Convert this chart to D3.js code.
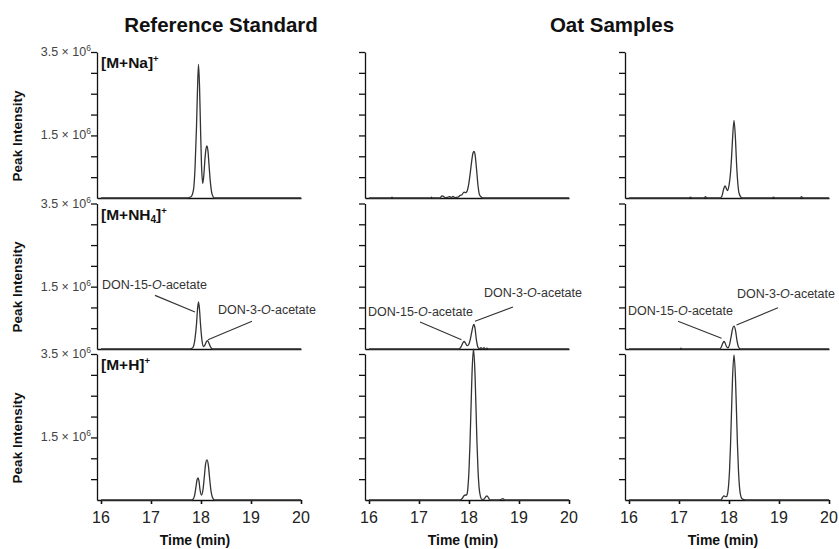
<!DOCTYPE html>
<html>
<head>
<meta charset="utf-8">
<script src="https://cdn.jsdelivr.net/npm/d3@7/dist/d3.min.js"></script>
<style>
  html, body { margin: 0; padding: 0; background: #fff; }
  svg { display: block; font-family: "Liberation Sans", Arial, sans-serif; }
</style>
</head>
<body>
<svg id="chart" width="839" height="549"></svg>
<script>
// ---------------- DATA ----------------
const columnTitles = ["Reference Standard", "Oat Samples"];
const adductLabels = [
  { base: "[M+Na]", sub: "", sup: "+" },
  { base: "[M+NH", sub: "4", sup: "+", close: "]" },
  { base: "[M+H]", sub: "", sup: "+" }
];
const timeTicks = [16, 17, 18, 19, 20];
const intensityTicks = [0.5, 1, 1.5, 2, 2.5, 3, 3.5];       // ×10^6
const labeledIntensity = [3.5, 1.5];
const labeledIntensityText = ["3.5 × 10", "1.5 × 10"];

// Reference standard
const refNaT = [16, 17.7, 17.8, 17.85, 17.88, 17.91, 17.93, 17.95, 17.97, 17.99, 18.01, 18.035, 18.06, 18.08, 18.10, 18.12, 18.14, 18.16, 18.19, 18.22, 18.27, 20];
const refNaY = [0, 0, 0.03, 0.2, 0.7, 1.7, 2.6, 3.2, 2.7, 1.7, 0.8, 0.35, 0.6, 0.95, 1.18, 1.25, 1.12, 0.8, 0.35, 0.1, 0, 0];
const refNH4T = [16, 17.78, 17.84, 17.88, 17.91, 17.93, 17.95, 17.97, 17.99, 18.02, 18.05, 18.08, 18.11, 18.13, 18.16, 18.19, 18.23, 20];
const refNH4Y = [0, 0, 0.04, 0.25, 0.6, 0.95, 1.13, 0.95, 0.6, 0.2, 0.06, 0.1, 0.18, 0.2, 0.14, 0.05, 0, 0];
const refHT = [16, 17.8, 17.84, 17.87, 17.9, 17.92, 17.94, 17.96, 17.98, 18.01, 18.04, 18.07, 18.09, 18.12, 18.15, 18.17, 18.2, 18.23, 18.27, 20];
const refHY = [0, 0, 0.02, 0.1, 0.32, 0.48, 0.53, 0.45, 0.25, 0.12, 0.25, 0.6, 0.85, 0.96, 0.8, 0.55, 0.22, 0.06, 0, 0];

// Oat sample 1
const oat1NaT = [16, 16.44, 16.46, 16.48, 17.23, 17.25, 17.27, 17.42, 17.46, 17.49, 17.52, 17.58, 17.62, 17.65, 17.68, 17.7, 17.72, 17.78, 17.82, 17.86, 17.9, 17.93, 17.96, 17.99, 18.02, 18.05, 18.08, 18.1, 18.12, 18.15, 18.18, 18.21, 18.25, 18.3, 20];
const oat1NaY = [0, 0, 0.02, 0, 0, 0.02, 0, 0, 0.05, 0.04, 0.01, 0.02, 0.03, 0.01, 0.04, 0.02, 0.01, 0.02, 0.06, 0.08, 0.14, 0.13, 0.16, 0.3, 0.55, 0.85, 1.08, 1.12, 1.05, 0.7, 0.3, 0.08, 0.02, 0, 0];
const oat1NH4T = [16, 17.8, 17.84, 17.87, 17.9, 17.93, 17.96, 17.99, 18.02, 18.05, 18.08, 18.1, 18.12, 18.15, 18.18, 18.21, 18.24, 18.27, 18.3, 18.33, 18.36, 18.39, 18.42, 20];
const oat1NH4Y = [0, 0, 0.05, 0.13, 0.18, 0.14, 0.08, 0.1, 0.2, 0.38, 0.55, 0.59, 0.5, 0.2, 0.04, 0.01, 0.03, 0, 0.03, 0, 0.02, 0, 0, 0];
const oat1HT = [16, 17.82, 17.86, 17.9, 17.93, 17.95, 17.97, 17.98, 18.0, 18.02, 18.04, 18.06, 18.09, 18.12, 18.14, 18.16, 18.18, 18.2, 18.23, 18.26, 18.3, 18.33, 18.36, 18.39, 18.42, 18.6, 18.65, 18.68, 18.72, 20];
const oat1HY = [0, 0, 0.03, 0.1, 0.12, 0.12, 0.2, 0.32, 0.72, 1.36, 2.2, 3.02, 3.62, 3.02, 2.2, 1.36, 0.72, 0.32, 0.08, 0.01, 0.02, 0.07, 0.1, 0.05, 0, 0, 0.02, 0.03, 0, 0];

// Oat sample 2
const oat2NaT = [16, 17.2, 17.23, 17.26, 17.5, 17.53, 17.56, 17.82, 17.86, 17.89, 17.92, 17.95, 17.97, 18.0, 18.03, 18.05, 18.07, 18.1, 18.13, 18.15, 18.17, 18.2, 18.24, 18.28, 18.86, 18.89, 18.92, 19.42, 19.45, 19.48, 20];
const oat2NaY = [0, 0, 0.02, 0, 0, 0.03, 0, 0, 0.05, 0.2, 0.29, 0.22, 0.18, 0.3, 0.6, 0.95, 1.4, 1.86, 1.4, 0.85, 0.45, 0.12, 0.02, 0, 0, 0.02, 0, 0, 0.03, 0, 0];
const oat2NH4T = [16, 17.02, 17.04, 17.06, 17.82, 17.85, 17.88, 17.9, 17.92, 17.95, 17.98, 18.01, 18.04, 18.07, 18.1, 18.13, 18.16, 18.19, 18.23, 20];
const oat2NH4Y = [0, 0, 0.02, 0, 0, 0.06, 0.15, 0.18, 0.15, 0.06, 0.03, 0.1, 0.28, 0.48, 0.55, 0.45, 0.2, 0.05, 0, 0];
const oat2HT = [16, 17.84, 17.87, 17.9, 17.93, 17.95, 17.97, 17.99, 18.01, 18.03, 18.05, 18.07, 18.1, 18.13, 18.15, 18.17, 18.19, 18.21, 18.23, 18.26, 18.3, 18.33, 20];
const oat2HY = [0, 0, 0.06, 0.1, 0.08, 0.08, 0.14, 0.33, 0.69, 1.3, 2.11, 2.9, 3.48, 2.9, 2.11, 1.3, 0.69, 0.31, 0.12, 0.03, 0.01, 0, 0];

// Annotations (row 1, [M+NH4]+) in data units: text anchor, leader line from -> to
const annotCol = [0, 0, 1, 1, 2, 2];
const annotText = ["DON-15-", "DON-3-", "DON-15-", "DON-3-", "DON-15-", "DON-3-"];
const annotTextT = [16.02, 18.34, 15.98, 18.30, 15.98, 18.16];
const annotTextI = [1.44, 0.84, 0.80, 1.25, 0.82, 1.23];
const annotFromT = [17.08, 19.02, 17.02, 18.88, 16.98, 18.98];
const annotFromI = [1.29, 0.67, 0.65, 1.01, 0.67, 0.99];
const annotToT = [17.88, 18.14, 17.85, 18.12, 17.85, 18.15];
const annotToI = [0.89, 0.22, 0.22, 0.67, 0.26, 0.58];

// ---------------- LAYOUT ----------------
const W = 839, H = 549;
const colAxisX = [97, 365, 625];
const colWidth = 205;
const rowTop = [52, 203.5, 354];
const rowBase = [198, 349, 500];

const traces = [
  [[refNaT, refNaY], [oat1NaT, oat1NaY], [oat2NaT, oat2NaY]],
  [[refNH4T, refNH4Y], [oat1NH4T, oat1NH4Y], [oat2NH4T, oat2NH4Y]],
  [[refHT, refHY], [oat1HT, oat1HY], [oat2HT, oat2HY]]
];

const svg = d3.select("#chart");
svg.append("rect").attr("width", W).attr("height", H).attr("fill", "#fff");

const xScales = colAxisX.map(ax => d3.scaleLinear().domain([15.92, 20]).range([ax, ax + colWidth - 1]));
const yScales = rowTop.map((t, i) => d3.scaleLinear().domain([0, 3.5]).range([rowBase[i], t]));

// Titles
svg.append("text").attr("x", 221).attr("y", 32).attr("text-anchor", "middle")
  .attr("font-size", 20.5).attr("font-weight", "bold").attr("fill", "#111").text(columnTitles[0]);
svg.append("text").attr("x", 612).attr("y", 32).attr("text-anchor", "middle")
  .attr("font-size", 20.5).attr("font-weight", "bold").attr("fill", "#111").text(columnTitles[1]);

const line = d3.line().curve(d3.curveMonotoneX);

for (let r = 0; r < 3; r++) {
  const y = yScales[r];
  // Y label
  svg.append("text")
    .attr("transform", `translate(22,${rowBase[r] - 62}) rotate(-90)`)
    .attr("text-anchor", "middle").attr("font-size", 13.5).attr("font-weight", "bold").attr("fill", "#111")
    .text("Peak Intensity");

  for (let c = 0; c < 3; c++) {
    const x = xScales[c];
    const g = svg.append("g");

    // y axis
    const ya = g.append("g").attr("transform", `translate(${colAxisX[c]},0)`)
      .call(d3.axisLeft(y).tickValues(intensityTicks).tickSize(6).tickSizeOuter(0).tickFormat(""));
    ya.selectAll("path,line").attr("stroke", "#111").attr("stroke-width", 1.3);

    // x axis
    const xa = g.append("g").attr("transform", `translate(0,${rowBase[r]})`)
      .call(d3.axisBottom(x).tickValues(r === 2 ? timeTicks : []).tickSize(4).tickSizeOuter(0).tickFormat(""));
    xa.selectAll("path,line").attr("stroke", "#111").attr("stroke-width", 1.6);

    if (r === 2) {
      g.selectAll("text.xt").data(timeTicks).enter().append("text")
        .attr("x", d => x(d)).attr("y", rowBase[r] + 23)
        .attr("text-anchor", "middle").attr("font-size", 16).attr("fill", "#222").text(d => d);
      g.append("text").attr("x", colAxisX[c] + 98).attr("y", 545)
        .attr("text-anchor", "middle").attr("font-size", 14).attr("font-weight", "bold").attr("fill", "#111")
        .text("Time (min)");
    }

    if (c === 0) {
      labeledIntensity.forEach((v, i) => {
        const t = g.append("text").attr("x", colAxisX[c] - 6).attr("y", y(v) + 4)
          .attr("text-anchor", "end").attr("font-size", 12.5).attr("fill", "#444");
        t.append("tspan").text(labeledIntensityText[i]);
        t.append("tspan").attr("font-size", 8.5).attr("dy", -5).text("6");
      });
      // Adduct label
      const a = adductLabels[r];
      const at = g.append("text").attr("x", colAxisX[c] + 4).attr("y", rowTop[r] + 16)
        .attr("font-size", 15.5).attr("font-weight", "bold").attr("fill", "#111");
      at.append("tspan").text(a.base);
      if (a.sub) {
        at.append("tspan").attr("font-size", 10).attr("dy", 3).text(a.sub);
        at.append("tspan").attr("dy", -3).text(a.close);
      }
      at.append("tspan").attr("font-size", 9.5).attr("dy", -6).text(a.sup);
    }

    // trace
    const [T, Y] = traces[r][c];
    const pts = T.map((t, i) => [x(t), y(Y[i])]);
    g.append("path").attr("d", line(pts)).attr("fill", "none")
      .attr("stroke", "#333").attr("stroke-width", 1.3).attr("stroke-linejoin", "round");
  }
}

// annotations on row 1
const yA = yScales[1];
annotText.forEach((txt, i) => {
  const x = xScales[annotCol[i]];
  svg.append("line")
    .attr("x1", x(annotFromT[i])).attr("y1", yA(annotFromI[i]))
    .attr("x2", x(annotToT[i])).attr("y2", yA(annotToI[i]))
    .attr("stroke", "#333").attr("stroke-width", 1.1);
  const t = svg.append("text").attr("x", x(annotTextT[i])).attr("y", yA(annotTextI[i]))
    .attr("font-size", 12.5).attr("fill", "#333");
  t.append("tspan").text(txt);
  t.append("tspan").attr("font-style", "italic").text("O");
  t.append("tspan").text("-acetate");
});
</script>
</body>
</html>
